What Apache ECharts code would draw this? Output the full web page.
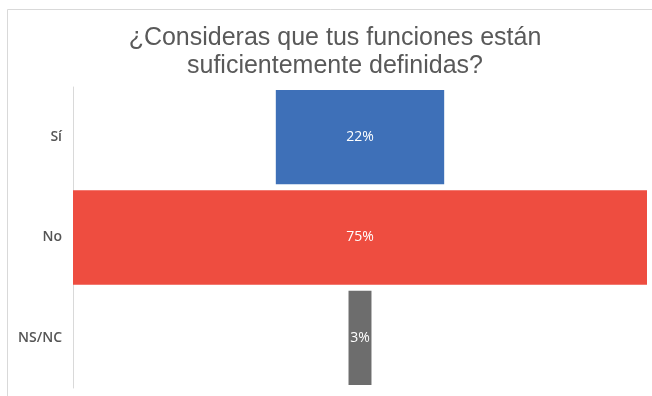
<!DOCTYPE html>
<html>
<head>
<meta charset="utf-8">
<style>
  html, body { margin: 0; padding: 0; background: #fff; }
  #chart { width: 652px; height: 396px; }
</style>
<script src="https://cdn.jsdelivr.net/npm/echarts@6/dist/echarts.min.js"></script>
</head>
<body>
<div id="chart"></div>
<script>
// Survey answers and their shares (%)
const categories = ['Sí', 'No', 'NS/NC'];
const shares = [22, 75, 3];
const barColors = ['#3e70b8', '#ee4d40', '#6d6d6d'];
const titleText = '¿Consideras que tus funciones están\nsuficientemente definidas?';

// Bars are centred on the widest one: an invisible lead-in segment pushes each bar in
const widest = Math.max(...shares);
const leadIn = shares.map(v => (widest - v) / 2);

const chart = echarts.init(document.getElementById('chart'), null, { renderer: 'canvas' });

chart.setOption({
  animation: false,
  backgroundColor: '#ffffff',
  title: {
    text: titleText,
    left: 330,
    top: 19,
    textAlign: 'center',
    textStyle: {
      fontFamily: 'Liberation Sans, Arial, sans-serif',
      fontSize: 25,
      fontWeight: 'normal',
      color: '#595959',
      lineHeight: 28
    }
  },
  graphic: [{
    type: 'rect',
    shape: { x: 7.5, y: 9.5, width: 700, height: 450 },
    style: { fill: 'none', stroke: '#d9d9d9', lineWidth: 1 },
    silent: true,
    z: -1
  }],
  grid: { left: 73, top: 87, width: 574, height: 301 },
  xAxis: {
    type: 'value',
    min: 0,
    max: widest,
    show: false
  },
  yAxis: {
    type: 'category',
    data: categories,
    inverse: true,
    axisLine: { show: true, lineStyle: { color: '#d9d9d9', width: 1 } },
    axisTick: { show: false },
    splitLine: { show: false },
    axisLabel: {
      margin: 11,
      fontFamily: 'Open Sans, Noto Sans, sans-serif',
      fontSize: 14,
      fontWeight: 600,
      color: '#555555'
    }
  },
  series: [
    {
      type: 'bar',
      stack: 'c',
      data: leadIn,
      itemStyle: { color: 'transparent' },
      barCategoryGap: '6%',
      silent: true
    },
    {
      type: 'bar',
      stack: 'c',
      barCategoryGap: '6%',
      data: shares.map((v, i) => ({ value: v, itemStyle: { color: barColors[i] } })),
      label: {
        show: true,
        position: 'inside',
        formatter: p => p.value + '%',
        color: '#ffffff',
        fontFamily: 'Open Sans, Noto Sans, sans-serif',
        fontSize: 14,
        fontWeight: 'normal'
      }
    }
  ]
});
</script>
</body>
</html>
